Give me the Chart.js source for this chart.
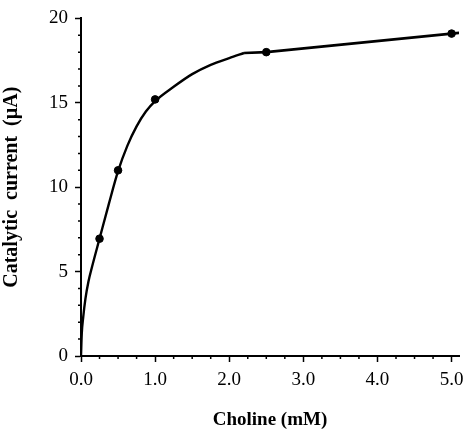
<!DOCTYPE html>
<html>
<head>
<meta charset="utf-8">
<script src="https://cdn.jsdelivr.net/npm/chart.js@4.4.0/dist/chart.umd.min.js"></script>
<style>
  html, body { margin: 0; padding: 0; background: #fff; overflow: hidden; }
  #wrap { width: 480px; height: 431px; }
</style>
</head>
<body>
<div id="wrap"><canvas id="chart"></canvas></div>
<script>
// measured points (choline mM vs catalytic current uA)
const cholineX = [0.25, 0.5, 1.0, 2.5, 5.0];
const currentY = [6.95, 11.0, 15.2, 18.0, 19.1];

// fitted curve
const curveX = [0, 0.01, 0.03, 0.06, 0.1, 0.15, 0.25, 0.375, 0.5, 0.625, 0.75, 0.875, 1.0, 1.25, 1.5, 1.75, 2.0, 2.2];
const curveY = [0, 1.3, 2.3, 3.4, 4.4, 5.3, 6.95, 9.0, 10.95, 12.45, 13.6, 14.48, 15.1, 15.95, 16.7, 17.25, 17.65, 17.95];

// straight part of the fit
const lineX = [2.2, 2.5, 5.0, 5.12];
const lineY = [17.95, 18.0, 19.1, 19.15];

const xTicks = [0, 1, 2, 3, 4, 5];
const yTicks = [0, 5, 10, 15, 20];

const toXY = (xs, ys) => xs.map((x, i) => ({ x: x, y: ys[i] }));

// minor tick marks (outside the axes)
const minorTicks = {
  id: 'minorTicks',
  afterDraw(chart) {
    const ctx = chart.ctx;
    const xs = chart.scales.x, ys = chart.scales.y;
    ctx.save();
    ctx.strokeStyle = '#000';
    ctx.lineWidth = 1.5;
    ctx.beginPath();
    for (let v = 0.25; v < 5.1; v += 0.25) {
      if (Math.abs(v - Math.round(v)) < 0.01) continue;
      const px = xs.getPixelForValue(v);
      ctx.moveTo(px, xs.top);
      ctx.lineTo(px, xs.top + 3);
    }
    for (let v = 1; v < 20; v++) {
      if (v % 5 === 0) continue;
      const py = ys.getPixelForValue(v);
      ctx.moveTo(ys.right, py);
      ctx.lineTo(ys.right - 3, py);
    }
    ctx.stroke();
    ctx.restore();
  }
};

const serif = "'Liberation Serif', 'Times New Roman', serif";

new Chart(document.getElementById('chart'), {
  type: 'scatter',
  data: {
    datasets: [
      {
        data: toXY(curveX, curveY),
        showLine: true,
        borderColor: '#000',
        borderWidth: 2.4,
        pointRadius: 0,
        cubicInterpolationMode: 'monotone'
      },
      {
        data: toXY(lineX, lineY),
        showLine: true,
        borderColor: '#000',
        borderWidth: 2.6,
        pointRadius: 0,
        tension: 0
      },
      {
        data: toXY(cholineX, currentY),
        backgroundColor: '#000',
        borderColor: '#000',
        pointRadius: 3.8,
        showLine: false
      }
    ]
  },
  options: {
    responsive: true,
    maintainAspectRatio: false,
    animation: false,
    layout: { padding: { top: 12, right: 21, left: 0, bottom: 0 } },
    plugins: { legend: { display: false }, tooltip: { enabled: false } },
    scales: {
      x: {
        type: 'linear',
        min: 0,
        max: 5.1,
        afterFit(scale) { scale.height = 75; },
        afterBuildTicks(scale) { scale.ticks = xTicks.map(v => ({ value: v })); },
        border: { display: true, color: '#000', width: 2 },
        grid: { drawOnChartArea: false, drawTicks: true, tickLength: 6, tickColor: '#000', tickWidth: 1.5 },
        ticks: {
          color: '#000',
          padding: 7,
          font: { family: serif, size: 19 },
          callback: v => v.toFixed(1)
        },
        title: {
          display: true,
          text: 'Choline (mM)',
          color: '#000',
          font: { family: serif, size: 19, weight: 'bold' },
          padding: { top: 0, bottom: 0 }
        }
      },
      y: {
        min: 0,
        max: 20,
        afterFit(scale) { scale.width = 81; },
        afterBuildTicks(scale) { scale.ticks = yTicks.map(v => ({ value: v })); },
        border: { display: true, color: '#000', width: 2 },
        grid: { drawOnChartArea: false, drawTicks: true, tickLength: 6, tickColor: '#000', tickWidth: 1.5 },
        ticks: {
          color: '#000',
          padding: 7,
          font: { family: serif, size: 19 }
        },
        title: {
          display: true,
          text: 'Catalytic  current  (\u00b5A)',
          color: '#000',
          font: { family: serif, size: 20, weight: 'bold' },
          padding: { top: 0, bottom: 0 }
        }
      }
    }
  },
  plugins: [minorTicks]
});
</script>
</body>
</html>
